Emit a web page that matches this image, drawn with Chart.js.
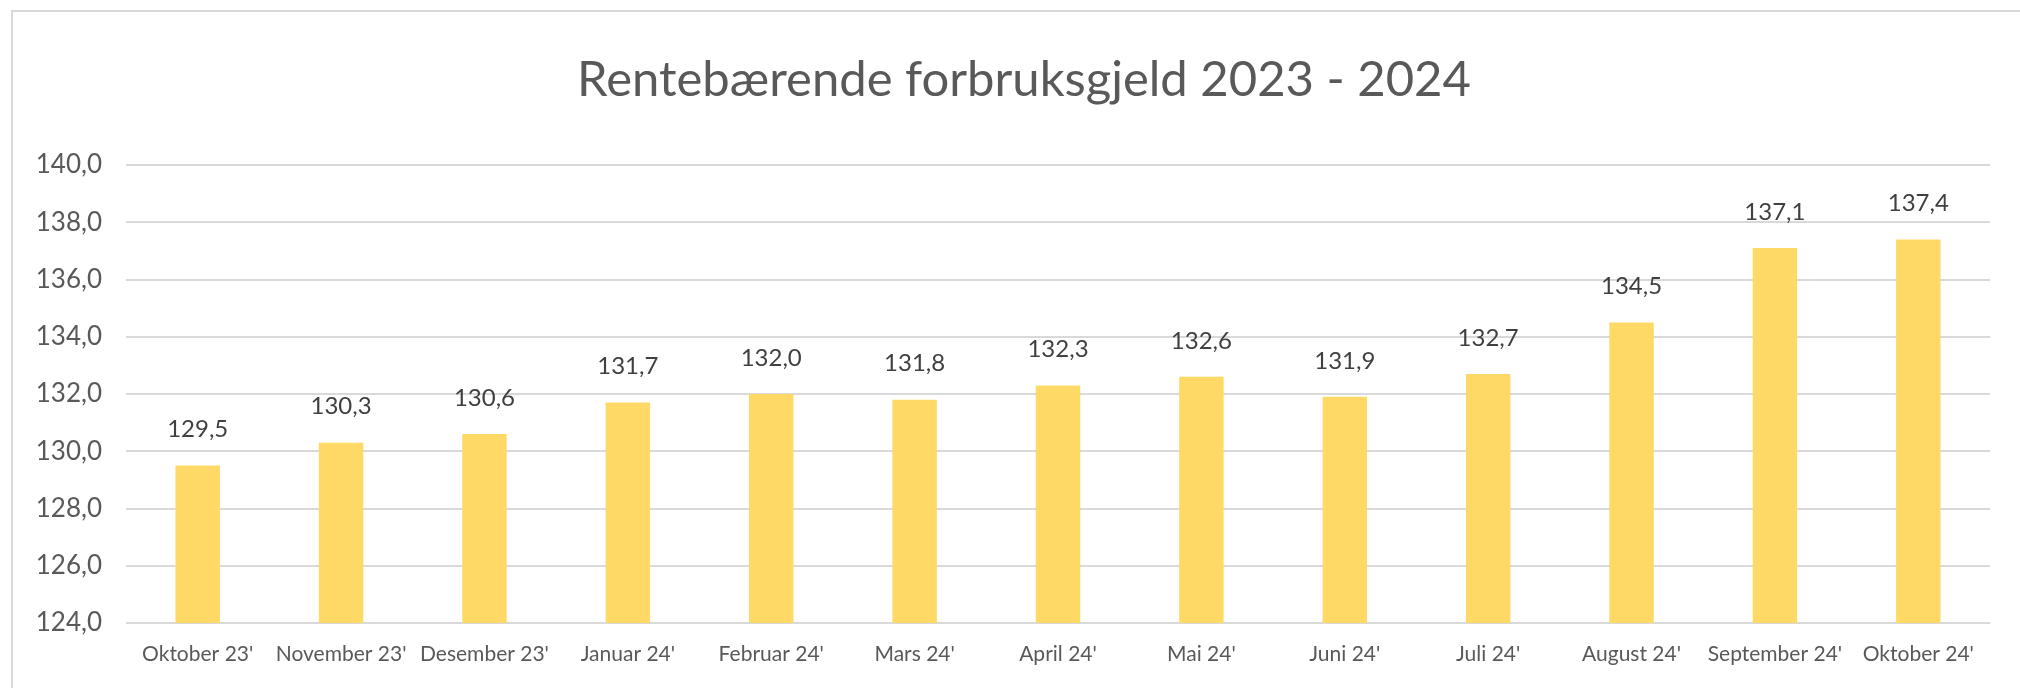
<!DOCTYPE html>
<html>
<head>
<meta charset="utf-8">
<script src="https://cdn.jsdelivr.net/npm/chart.js@4/dist/chart.umd.min.js"></script>
<style>
  html, body { margin: 0; padding: 0; background: #fff; }
  #wrap { width: 2020px; height: 688px; position: relative; }
</style>
</head>
<body>
<div id="wrap"><canvas id="chart"></canvas></div>
<script>
const months = ["Oktober 23'", "November 23'", "Desember 23'", "Januar 24'", "Februar 24'", "Mars 24'",
  "April 24'", "Mai 24'", "Juni 24'", "Juli 24'", "August 24'", "September 24'", "Oktober 24'"];
const debt = [129.5, 130.3, 130.6, 131.7, 132.0, 131.8, 132.3, 132.6, 131.9, 132.7, 134.5, 137.1, 137.4];
const yMin = 124;
const yMax = 140;
const yStep = 2;
const chartTitle = 'Rentebærende forbruksgjeld 2023 - 2024';

const FONT = 'Lato, "Open Sans", sans-serif';
const fmt = v => v.toFixed(1).replace('.', ',');

// Frame and title (Excel centres the title a bit right of the canvas middle)
const framePlugin = {
  id: 'frame',
  beforeDraw(chart) {
    const ctx = chart.ctx;
    ctx.save();
    ctx.fillStyle = '#ffffff';
    ctx.fillRect(0, 0, chart.width, chart.height);
    ctx.strokeStyle = '#d9d9d9';
    ctx.lineWidth = 2;
    ctx.beginPath();
    ctx.moveTo(12, chart.height);
    ctx.lineTo(12, 11);
    ctx.lineTo(chart.width, 11);
    ctx.stroke();

    ctx.font = '49px ' + FONT;
    ctx.fillStyle = '#595959';
    ctx.textAlign = 'center';
    ctx.textBaseline = 'middle';
    ctx.fillText(chartTitle, 1024, 80);
    ctx.restore();
  }
};

// Value labels above each bar
const valueLabels = {
  id: 'valueLabels',
  afterDatasetsDraw(chart) {
    const ctx = chart.ctx;
    const meta = chart.getDatasetMeta(0);
    ctx.save();
    ctx.font = '24px ' + FONT;
    ctx.fillStyle = '#404040';
    ctx.textAlign = 'center';
    ctx.textBaseline = 'middle';
    meta.data.forEach((bar, i) => {
      ctx.fillText(fmt(debt[i]), bar.x, bar.y - 36);
    });
    ctx.restore();
  }
};

new Chart(document.getElementById('chart'), {
  type: 'bar',
  data: {
    labels: months,
    datasets: [{
      data: debt,
      backgroundColor: '#ffd966',
      borderWidth: 0,
      barPercentage: 0.31,
      categoryPercentage: 1
    }]
  },
  options: {
    responsive: true,
    maintainAspectRatio: false,
    animation: false,
    layout: { padding: { left: 0, right: 30, top: 165, bottom: 20 } },
    plugins: {
      legend: { display: false },
      tooltip: { enabled: false },
      title: { display: false }
    },
    scales: {
      x: {
        grid: { display: false, drawTicks: false },
        border: { display: false },
        ticks: {
          color: '#595959',
          font: { family: FONT, size: 21 },
          padding: 19,
          maxRotation: 0,
          autoSkip: false
        },
        afterFit(scale) { scale.height = 45; }
      },
      y: {
        min: yMin,
        max: yMax,
        border: { display: false },
        grid: { color: '#d9d9d9', lineWidth: 2, drawTicks: false },
        ticks: {
          stepSize: yStep,
          color: '#595959',
          font: { family: FONT, size: 26 },
          padding: 24,
          callback: v => fmt(v)
        },
        afterFit(scale) { scale.width = 126; }
      }
    }
  },
  plugins: [framePlugin, valueLabels]
});
</script>
</body>
</html>
